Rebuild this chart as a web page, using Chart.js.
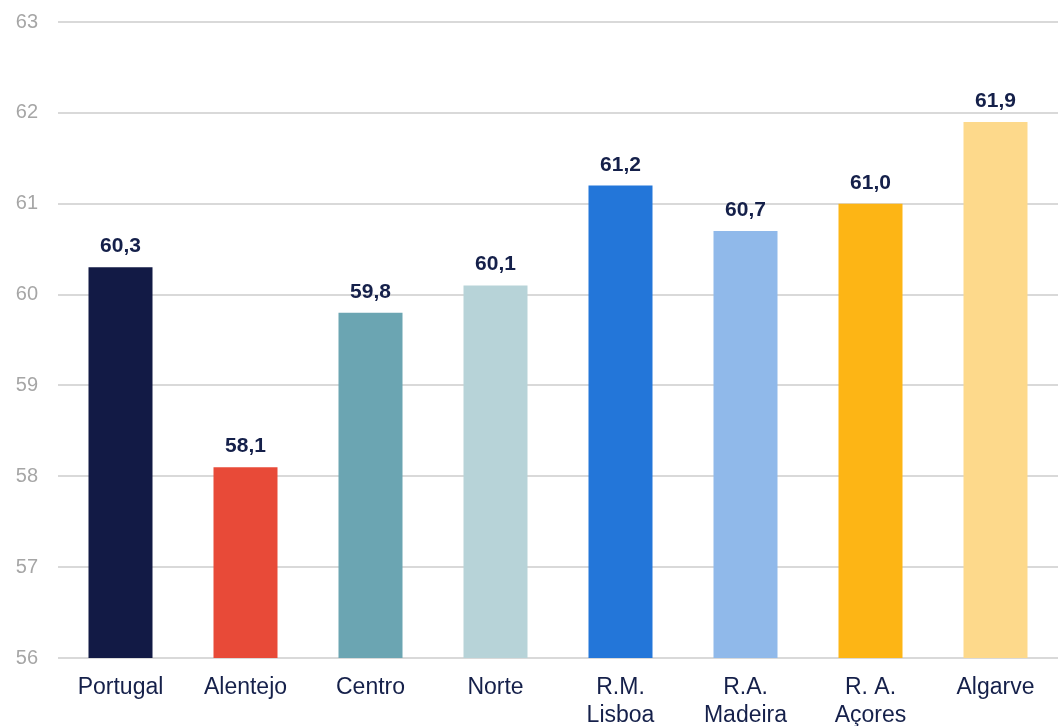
<!DOCTYPE html>
<html>
<head>
<meta charset="utf-8">
<script src="https://cdn.jsdelivr.net/npm/chart.js@4"></script>
<style>
html,body{margin:0;padding:0;background:#fff;}
#wrap{width:1058px;height:726px;position:relative;}
</style>
</head>
<body>
<div id="wrap"><canvas id="c"></canvas></div>
<script>
const categories = ["Portugal", "Alentejo", "Centro", "Norte", ["R.M.", "Lisboa"], ["R.A.", "Madeira"], ["R. A.", "Açores"], "Algarve"];
const values = [60.3, 58.1, 59.8, 60.1, 61.2, 60.7, 61.0, 61.9];
const barColors = ["#121a45", "#e84a38", "#6ba5b2", "#b7d3d8", "#2376d9", "#90b9ea", "#fdb515", "#fdd98b"];
const yTicks = [56, 57, 58, 59, 60, 61, 62, 63];

const valueLabels = {
  id: 'valueLabels',
  afterDatasetsDraw(chart) {
    const ctx = chart.ctx;
    const meta = chart.getDatasetMeta(0);
    ctx.save();
    ctx.font = 'bold 21px "Liberation Sans", Arial, sans-serif';
    ctx.fillStyle = '#15204a';
    ctx.textAlign = 'center';
    ctx.textBaseline = 'alphabetic';
    meta.data.forEach((bar, i) => {
      ctx.fillText(values[i].toFixed(1).replace('.', ','), bar.x, bar.y - 15);
    });
    ctx.restore();
  }
};

new Chart(document.getElementById('c'), {
  type: 'bar',
  data: {
    labels: categories,
    datasets: [{
      data: values,
      backgroundColor: barColors,
      borderWidth: 0,
      barPercentage: 0.512,
      categoryPercentage: 1.0
    }]
  },
  options: {
    responsive: true,
    maintainAspectRatio: false,
    animation: false,
    devicePixelRatio: 1,
    layout: { padding: { top: 22, right: 0, left: 0, bottom: 0 } },
    plugins: { legend: { display: false }, tooltip: { enabled: false } },
    scales: {
      x: {
        grid: { display: false, drawTicks: false },
        border: { display: false },
        ticks: {
          color: '#15204a',
          font: { family: '"Liberation Sans", Arial, sans-serif', size: 23, lineHeight: 1.22 },
          padding: 16,
          maxRotation: 0,
          autoSkip: false
        },
        afterFit(scale) { scale.height = 68; scale.paddingLeft = 0; scale.paddingRight = 0; }
      },
      y: {
        min: 56,
        max: 63,
        afterBuildTicks(scale) { scale.ticks = yTicks.map(v => ({ value: v })); },
        grid: { color: '#d9d9d9', lineWidth: 2, drawTicks: false },
        border: { display: false },
        ticks: {
          color: '#a6a6a6',
          font: { family: '"Liberation Sans", Arial, sans-serif', size: 20 },
          padding: 20
        },
        afterFit(scale) { scale.width = 58; scale.paddingTop = 0; scale.paddingBottom = 0; }
      }
    }
  },
  plugins: [valueLabels]
});
</script>
</body>
</html>
